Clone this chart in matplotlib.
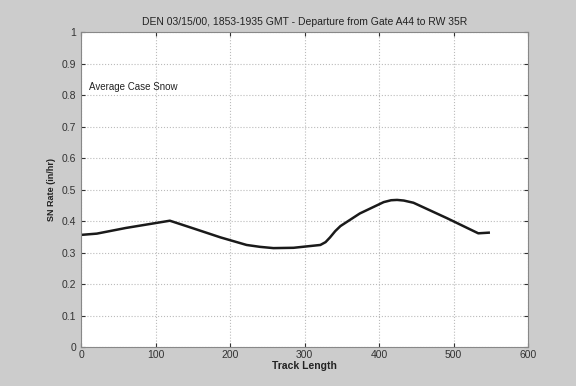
import matplotlib
matplotlib.use('Agg')
import matplotlib.pyplot as plt

# Snow rate along the departure track
track_length = [0, 21, 60, 119, 150, 187, 222, 240, 258, 285, 321, 328, 334, 341, 348,
                374, 406, 416, 424, 433, 446, 491, 533, 547]
sn_rate = [0.356, 0.360, 0.378, 0.401, 0.377, 0.348, 0.324, 0.318, 0.314, 0.315,
           0.324, 0.333, 0.348, 0.368, 0.384, 0.424, 0.460, 0.466, 0.467, 0.465,
           0.458, 0.409, 0.361, 0.363]

x_ticks = [0, 100, 200, 300, 400, 500, 600]
y_ticks = [0, 0.1, 0.2, 0.3, 0.4, 0.5, 0.6, 0.7, 0.8, 0.9, 1]
y_tick_labels = ['0', '0.1', '0.2', '0.3', '0.4', '0.5', '0.6', '0.7', '0.8', '0.9', '1']

plt.rcParams['font.family'] = ['Liberation Sans', 'DejaVu Sans']

fig = plt.figure(figsize=(5.76, 3.86), dpi=100, facecolor='#cccccc')
ax = fig.add_axes([0.141, 0.101, 0.776, 0.816])
ax.set_facecolor('white')

ax.plot(track_length, sn_rate, color='#1a1a1a', linewidth=1.8)

ax.set_xlim(0, 600)
ax.set_ylim(0, 1)
ax.set_xticks(x_ticks)
ax.set_yticks(y_ticks)
ax.set_yticklabels(y_tick_labels)
ax.tick_params(direction='in', length=3, labelsize=7.5, colors='#333333',
               top=True, right=True, labeltop=False, labelright=False)
ax.tick_params(axis='x', pad=2)
ax.grid(True, linestyle=':', color='#bbbbbb', linewidth=0.8)

for side in ax.spines.values():
    side.set_color('#888888')
    side.set_linewidth(0.8)

ax.set_title('DEN 03/15/00, 1853-1935 GMT - Departure from Gate A44 to RW 35R',
             fontsize=7.5, color='#222222', pad=5)
ax.set_xlabel('Track Length', fontsize=7.5, fontweight='bold', labelpad=1, color='#222222')
ax.set_ylabel('SN Rate (in/hr)', fontsize=6.5, fontweight='bold', labelpad=4, color='#222222')
ax.text(10, 0.825, 'Average Case Snow', fontsize=7, color='#222222', va='center')

fig.savefig('out.png', dpi=100, facecolor=fig.get_facecolor())
